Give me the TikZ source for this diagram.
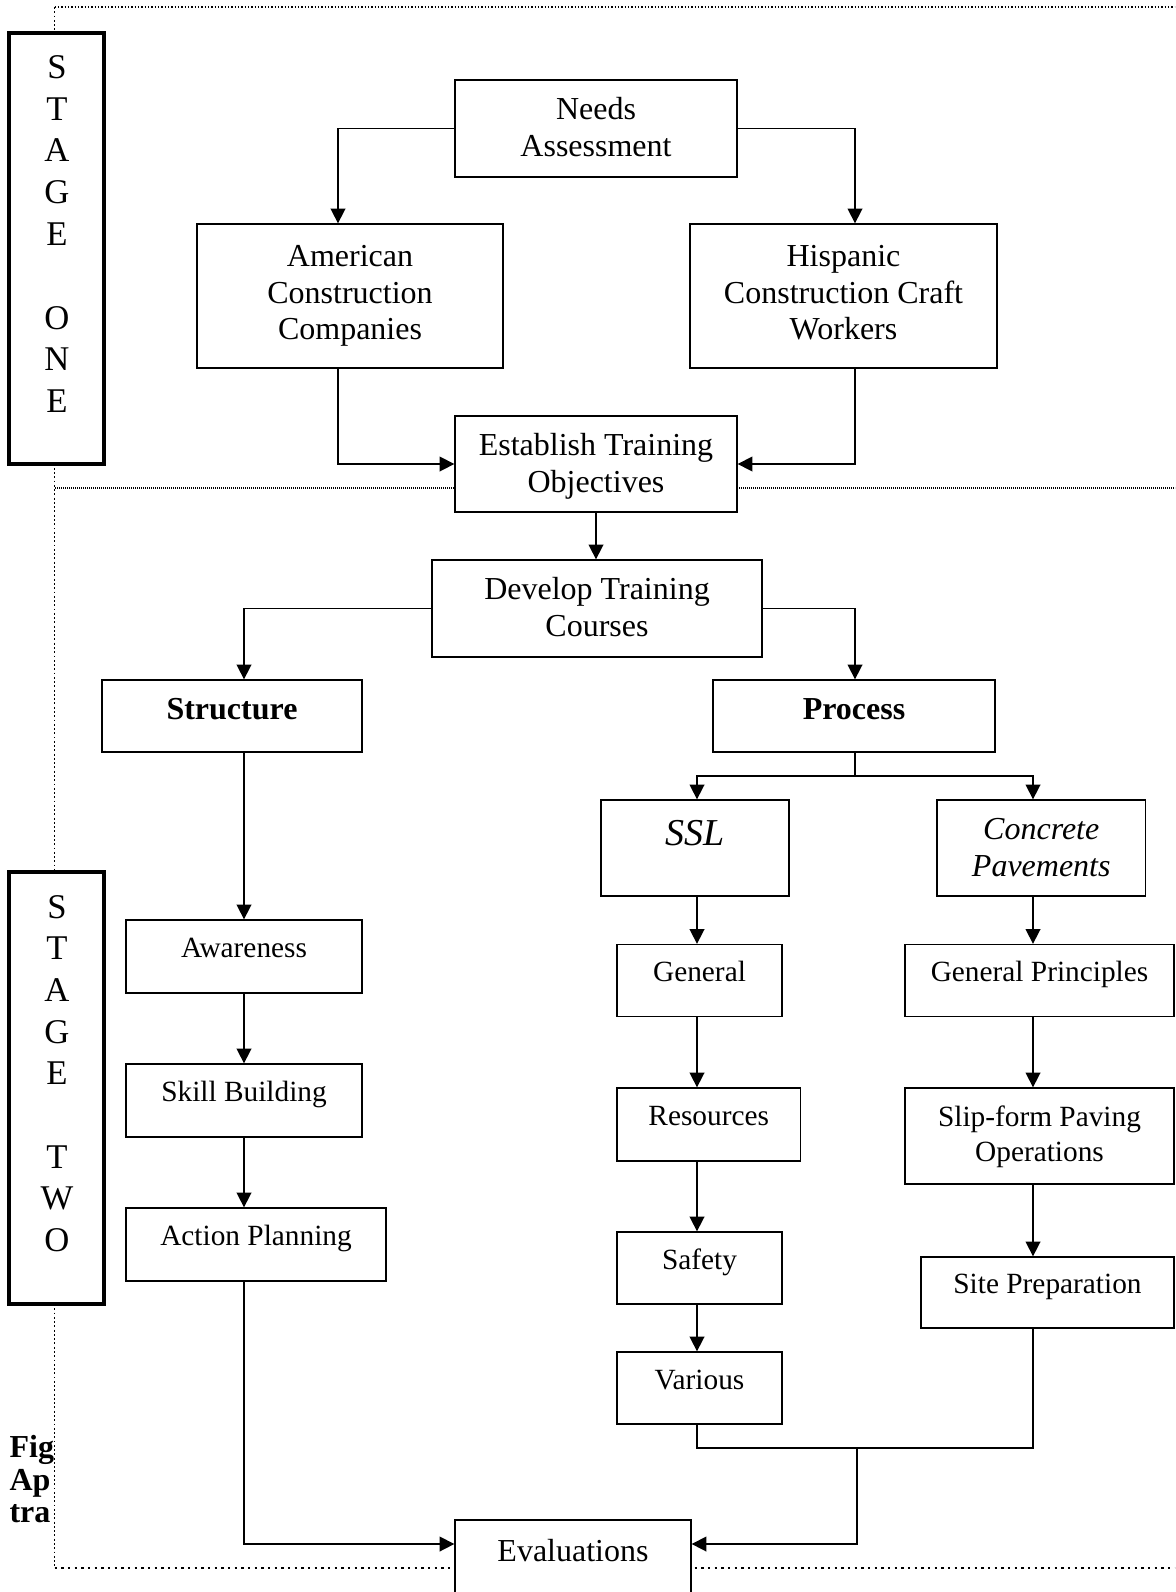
\documentclass[tikz,border=0pt]{standalone}
\usepackage{fontspec}
\setmainfont{Liberation Serif}
\usetikzlibrary{arrows.meta}
\newcommand{\mlines}[2][0pt]{\begin{tabular}{@{}c@{}}\rule{0pt}{\dimexpr\ht\strutbox+#1\relax}#2\end{tabular}}
\begin{document}
\begin{tikzpicture}[x=0.75pt,y=-0.75pt,
  box/.style={draw,fill=white,line width=1pt,inner sep=0pt},
  wh/.style 2 args={minimum width={#1*0.75pt},minimum height={#2*0.75pt}},
  big/.style={font=\fontsize{24}{27.4}\selectfont},
  small/.style={font=\fontsize{22}{26.4}\selectfont},
  one/.style={text height=8.75pt,text depth=7.25pt},
  conn/.style={line width=1.2pt},
  arr/.style={conn,-{Triangle[length=11pt,width=11pt]}},
  stagebox/.style={draw,fill=white,line width=3pt,inner sep=0pt},
  stagefont/.style={font=\fontsize{26}{31}\selectfont,inner sep=0pt,anchor=base},
  capfont/.style={font=\fontsize{24}{26}\selectfont\bfseries,inner sep=0pt,anchor=base west},
]
\useasboundingbox (0,0) rectangle (1175,1592);
\clip (0,0) rectangle (1175,1592);

% frame lines
\coordinate (ftl) at (54.5,7);
\coordinate (ftr) at (1175,7);
\coordinate (fml) at (55,488);
\coordinate (fmr) at (1175,488);
\coordinate (fbl) at (54.5,1568);
\coordinate (fbr) at (1175,1568);
\draw[line width=0.9pt,dash pattern=on 1pt off 1.5pt] (ftl) -- (ftr);
\draw[line width=1.1pt,dash pattern=on 0.8pt off 0.7pt] (fml) -- (fmr);
\draw[line width=1.5pt,dash pattern=on 1.8pt off 3.2pt] (fbl) -- (fbr);
\draw[line width=1.1pt,dash pattern=on 1.4pt off 1.8pt] (ftl) -- (fbl);

% caption fragment
\begin{scope}
\clip (0,1400) rectangle (53.5,1540);
\node[capfont] (cap1) at (9.3,1457) {Fig};
\node[capfont] (cap2) at (9.3,1490) {Ap};
\node[capfont] (cap3) at (9.3,1522) {tra};
\end{scope}

% stage boxes
\node[stagebox,wh={94.7}{431}] (stage1) at (56.65,248.2) {};
\node[stagebox,wh={94.7}{431.7}] (stage2) at (56.65,1088.15) {};
\foreach \l/\i in {S/1,T/2,A/3,G/4,E/5,O/7,N/8,E/9}{
  \node[stagefont] (sa\i) at (57,{78.3+41.8*(\i-1)}) {\l};
}
\foreach \l/\i in {S/1,T/2,A/3,G/4,E/5,T/7,W/8,O/9}{
  \node[stagefont] (sb\i) at (57,{918+41.7*(\i-1)}) {\l};
}

% stage one boxes
\node[box,big,wh={282}{97}] (needs) at (596,128.5) {\mlines[3pt]{Needs\\Assessment}};
\node[box,big,wh={306}{144}] (american) at (350,296) {\mlines{American\\Construction\\Companies}};
\node[box,big,wh={307}{144}] (hispanic) at (843.5,296) {\mlines{Hispanic\\Construction Craft\\Workers}};
\node[box,big,wh={282}{96}] (establish) at (596,464) {\mlines[4pt]{Establish Training\\Objectives}};

% stage two boxes
\node[box,big,wh={330}{97}] (develop) at (597,608.5) {\mlines[3pt]{Develop Training\\Courses}};
\node[box,wh={260}{72},text height=10.5pt,text depth=5.4pt,font=\fontsize{24}{27.4}\selectfont\bfseries] (structure) at (232,716) {Structure};
\node[box,wh={282}{72},text height=10.5pt,text depth=5.4pt,font=\fontsize{24}{27.4}\selectfont\bfseries] (process) at (854,716) {Process};
\node[box,wh={188}{96},text height=6pt,text depth=9.75pt,font=\fontsize{28.5}{32}\selectfont\itshape] (ssl) at (695,848) {SSL};
\node[box,wh={208.5}{96},font=\fontsize{24}{27.4}\selectfont\itshape] (concrete) at (1041.25,848) {\mlines[4pt]{Concrete\\Pavements}};

\node[box,small,one,wh={236}{73}] (awareness) at (244,956.5) {Awareness};
\node[box,small,one,wh={236}{73}] (skill) at (244,1100.5) {Skill Building};
\node[box,small,one,wh={260}{73}] (action) at (256,1244.5) {Action Planning};

\node[box,small,one,wh={165}{72}] (general) at (699.5,980.5) {General};
\node[box,small,one,wh={183.5}{73}] (resources) at (708.75,1124.5) {Resources};
\node[box,small,one,wh={165}{72}] (safety) at (699.5,1268) {Safety};
\node[box,small,one,wh={165}{72}] (various) at (699.5,1388) {Various};

\node[box,small,one,wh={269}{72}] (genprin) at (1039.5,980.5) {General Principles};
\node[box,small,wh={269}{96}] (slip) at (1039.5,1136) {\mlines[1.5pt]{Slip-form Paving\\Operations}};
\node[box,small,one,wh={253}{71}] (site) at (1047.5,1292.5) {Site Preparation};

\node[box,big,text height=11pt,text depth=5pt,wh={236}{74}] (evaluations) at (573,1557) {Evaluations};

% column coordinates
\coordinate (am) at (338,0);
\coordinate (hi) at (855,0);
\coordinate (cS) at (244,0);
\coordinate (cA) at (697,0);
\coordinate (cB) at (1033,0);
\coordinate (cM) at (857,0);
\coordinate (pb) at (0,776);
\coordinate (mb) at (0,1448);
\coordinate (ev) at (0,1544);

% stage one connectors
\draw[arr] (needs.west) -| (am |- american.north);
\draw[arr] (needs.east) -| (hi |- hispanic.north);
\draw[arr] (am |- american.south) |- (establish.west);
\draw[arr] (hi |- hispanic.south) |- (establish.east);
\draw[arr] (establish.south) -- (establish.south |- develop.north);

% stage two connectors
\draw[arr] (develop.west) -| (cS |- structure.north);
\draw[arr] (develop.east) -| (hi |- process.north);
\draw[arr] (cS |- structure.south) -- (cS |- awareness.north);
\draw[arr] (cS |- awareness.south) -- (cS |- skill.north);
\draw[arr] (cS |- skill.south) -- (cS |- action.north);
\draw[arr] (cS |- action.south) |- (evaluations.west |- ev);

\draw[arr] (hi |- process.south) -- (hi |- pb) -| (cA |- ssl.north);
\draw[arr] (hi |- pb) -| (cB |- concrete.north);

\draw[arr] (cA |- ssl.south) -- (cA |- general.north);
\draw[arr] (cA |- general.south) -- (cA |- resources.north);
\draw[arr] (cA |- resources.south) -- (cA |- safety.north);
\draw[arr] (cA |- safety.south) -- (cA |- various.north);

\draw[arr] (cB |- concrete.south) -- (cB |- genprin.north);
\draw[arr] (cB |- genprin.south) -- (cB |- slip.north);
\draw[arr] (cB |- slip.south) -- (cB |- site.north);

\draw[conn] (cA |- various.south) |- (cB |- mb) -- (cB |- site.south);
\draw[arr] (cM |- mb) |- (evaluations.east |- ev);
\end{tikzpicture}
\end{document}
